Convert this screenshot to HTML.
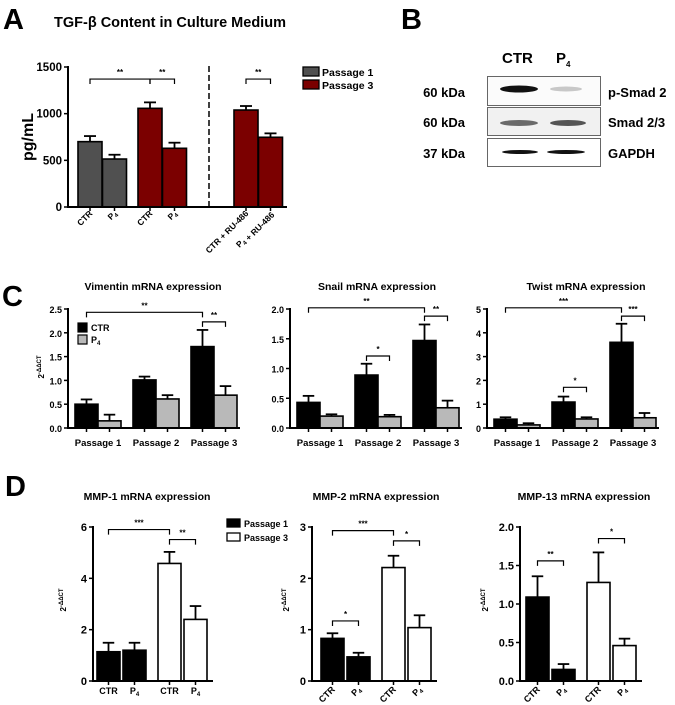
<!DOCTYPE html>
<html><head><meta charset="utf-8">
<style>
html,body{margin:0;padding:0;background:#fff;}
svg{display:block;font-family:"Liberation Sans",Arial,sans-serif;}
</style></head>
<body>
<svg id="fig" width="675" height="705" viewBox="0 0 675 705" xmlns="http://www.w3.org/2000/svg">
<text x="3" y="29" font-size="29" font-weight="bold">A</text>
<text x="401" y="29" font-size="29" font-weight="bold">B</text>
<text x="2" y="306" font-size="29" font-weight="bold">C</text>
<text x="5" y="496" font-size="29" font-weight="bold">D</text>
<text x="54" y="27" font-size="14.5" font-weight="bold">TGF-β Content in Culture Medium</text>

<g font-weight="bold">
<text x="502" y="63" font-size="15">CTR</text>
<text x="556" y="63" font-size="15">P<tspan font-size="8" dy="4">4</tspan></text>
<rect x="487.5" y="76.5" width="113" height="29" fill="#fbfbfb" stroke="#666" stroke-width="1"/>
<rect x="487.5" y="107.5" width="113" height="28" fill="#f1f1f1" stroke="#666" stroke-width="1"/>
<rect x="487.5" y="138.5" width="113" height="28" fill="#fff" stroke="#666" stroke-width="1"/>
<ellipse cx="519" cy="89" rx="19" ry="3.5" fill="#111"/>
<ellipse cx="566" cy="89" rx="16" ry="2.5" fill="#c8c8c8"/>
<ellipse cx="519" cy="123" rx="19" ry="3" fill="#6a6a6a"/>
<ellipse cx="568" cy="123" rx="18" ry="3" fill="#555"/>
<ellipse cx="520" cy="152" rx="18" ry="2" fill="#111"/>
<ellipse cx="566" cy="152" rx="19" ry="2" fill="#111"/>
<text x="465" y="97" font-size="13" text-anchor="end">60 kDa</text>
<text x="465" y="127" font-size="13" text-anchor="end">60 kDa</text>
<text x="465" y="158" font-size="13" text-anchor="end">37 kDa</text>
<text x="608" y="97" font-size="13">p-Smad 2</text>
<text x="608" y="127" font-size="13">Smad 2/3</text>
<text x="608" y="158" font-size="13">GAPDH</text>
</g>
</svg>
<script>
// ---- Panel A data ----
var aCategories = ["CTR","P4","CTR","P4","CTR + RU-486","P4 + RU-486"];
var aValues = [700, 514, 1057, 629, 1039, 747];
var aErrors = [760, 560, 1121, 689, 1082, 789];
var aTicks = [0, 500, 1000, 1500];
var aSeries = ["Passage 1","Passage 1","Passage 3","Passage 3","Passage 3","Passage 3"];
// ---- Panel C data ----
var cGroups = ["Passage 1","Passage 2","Passage 3"];
var vimCtr = [0.5, 1.01, 1.71];
var vimP4 = [0.15, 0.61, 0.69];
var vimCtrErr = [0.6, 1.08, 2.06];
var vimP4Err = [0.28, 0.69, 0.88];
var vimTicks = [0, 0.5, 1.0, 1.5, 2.0, 2.5];
var snailCtr = [0.43, 0.89, 1.47];
var snailP4 = [0.2, 0.19, 0.34];
var snailCtrErr = [0.54, 1.08, 1.74];
var snailP4Err = [0.23, 0.22, 0.46];
var snailTicks = [0, 0.5, 1.0, 1.5, 2.0];
var twistCtr = [0.37, 1.09, 3.6];
var twistP4 = [0.13, 0.38, 0.43];
var twistCtrErr = [0.45, 1.32, 4.38];
var twistP4Err = [0.2, 0.45, 0.63];
var twistTicks = [0, 1, 2, 3, 4, 5];
// ---- Panel D data ----
var dCategories = ["CTR","P4","CTR","P4"];
var mmp1Values = [1.14, 1.2, 4.58, 2.4];
var mmp1Errors = [1.49, 1.49, 5.03, 2.92];
var mmp1Ticks = [0, 2, 4, 6];
var mmp2Values = [0.83, 0.47, 2.21, 1.04];
var mmp2Errors = [0.93, 0.55, 2.44, 1.28];
var mmp2Ticks = [0, 1, 2, 3];
var mmp13Values = [1.09, 0.15, 1.28, 0.46];
var mmp13Errors = [1.36, 0.22, 1.67, 0.55];
var mmp13Ticks = [0, 0.5, 1.0, 1.5, 2.0];

var NS = "http://www.w3.org/2000/svg";
var svg = document.getElementById("fig");
function mk(tag, attrs, parent) {
  var e = document.createElementNS(NS, tag);
  for (var k in attrs) e.setAttribute(k, attrs[k]);
  (parent || svg).appendChild(e);
  return e;
}
function fmt(v, dec) { return dec ? v.toFixed(1) : String(v); }

function drawChart(cfg) {
  var g = mk("g", {});
  
  
  var yS = function (v) { return cfg.zeroY - (v / cfg.max) * (cfg.zeroY - cfg.topY); };
  cfg.values.forEach(function (v, i) {
    var x = cfg.barX(i), w = cfg.barW, cx = x + w / 2;
    var eb = mk("line", {x1: cx, x2: cx, y1: yS(v), y2: yS(cfg.errors[i]), stroke: "#000", "stroke-width": 1.8}, g);
    
    
    var cap = mk("line", {x1: cx - w / 4, x2: cx + w / 4, y1: yS(cfg.errors[i]), y2: yS(cfg.errors[i]), stroke: "#000", "stroke-width": 1.8}, g);
    
    
    var r = mk("rect", {x: x, y: yS(v), width: w, height: cfg.zeroY - yS(v), fill: cfg.fills[i], stroke: "#000", "stroke-width": 1.6}, g);
    
    
    var t = mk("line", {x1: cx, x2: cx, y1: cfg.zeroY, y2: cfg.zeroY + 4, stroke: "#000", "stroke-width": 1.5}, g);
    
    
  });
  var ya = mk("line", {x1: cfg.axisX, x2: cfg.axisX, y1: cfg.topY - 1, y2: cfg.zeroY + 1, stroke: "#000", "stroke-width": 2}, g);
  
  
  var xa = mk("line", {x1: cfg.axisX - 1, x2: cfg.axisEnd, y1: cfg.zeroY, y2: cfg.zeroY, stroke: "#000", "stroke-width": 2}, g);
  
  
  cfg.ticks.forEach(function (tv) {
    var y = yS(tv);
    var tl = mk("line", {x1: cfg.axisX - 4, x2: cfg.axisX, y1: y, y2: y, stroke: "#000", "stroke-width": 1.5}, g);
    
    
    var tx = mk("text", {x: cfg.axisX - 6, y: y + 4, "font-size": cfg.tickFont, "font-weight": "bold", "text-anchor": "end"}, g);
    
    
    tx.textContent = fmt(tv, cfg.dec);
  });
  (cfg.brackets || []).forEach(function (b) {
    var x1 = cfg.barX(b[0]) + cfg.barW / 2, x2 = cfg.barX(b[1]) + cfg.barW / 2, y = yS(b[2]);
    var p = mk("path", {d: "M" + x1 + "," + (y + 5) + "V" + y + "H" + x2 + "V" + (y + 5), fill: "none", stroke: "#000", "stroke-width": 1.2}, g);
    
    
    var s = mk("text", {x: (x1 + x2) / 2, y: y - 4, "font-size": 8, "font-weight": "bold", "text-anchor": "middle"}, g);
    
    
    s.textContent = b[3];
  });
  return {g: g, yS: yS};
}
function ylabel(x, y, name) {
  var t = mk("text", {x: 0, y: 0, transform: "translate(" + x + "," + y + ") rotate(-90)", "font-size": 8, "font-weight": "bold", "text-anchor": "middle"});
  
  
  t.innerHTML = '2<tspan dy="-3" font-size="6">-ΔΔCT</tspan>';
}
function title(x, y, s, name) {
  var t = mk("text", {x: x, y: y, "font-size": 10.5, "font-weight": "bold", "text-anchor": "middle"});
  
  
  t.textContent = s;
}
function sub(s) { return s.replace("P4", 'P<tspan font-size="6" dy="2">4</tspan><tspan dy="-2"></tspan>'); }

// ---- Panel A ----
var aStarts = [78, 78, 138, 138, 234, 234];
drawChart({
  name: "tgf-beta-chart", values: aValues, errors: aErrors, max: 1500, ticks: aTicks, dec: false,
  axisX: 68, axisEnd: 287, zeroY: 207, topY: 67, barW: 24, tickFont: 11.5,
  barX: function (i) { return aStarts[i] + (i % 2) * 24.5; },
  fills: aSeries.map(function (s) { return s === "Passage 1" ? "#505050" : "#7b0000"; }),
  brackets: [[0, 2, 1371, "**"], [2, 3, 1371, "**"], [4, 5, 1371, "**"]]
});
var dl = mk("line", {x1: 209, x2: 209, y1: 66, y2: 207, stroke: "#000", "stroke-width": 1.5, "stroke-dasharray": "6,3"});


aCategories.forEach(function (c, i) {
  var cx = aStarts[i] + (i % 2) * 24.5 + 12;
  var t = mk("text", {x: 0, y: 0, transform: "translate(" + (cx + 3) + "," + 214 + ") rotate(-45)", "font-size": 8.5, "font-weight": "bold", "text-anchor": "end"});
  
  
  t.innerHTML = sub(c);
});
var ay = mk("text", {x: 0, y: 0, transform: "translate(33,137) rotate(-90)", "font-size": 16, "font-weight": "bold", "text-anchor": "middle"});


ay.textContent = "pg/mL";
[["Passage 1", "#505050", 67], ["Passage 3", "#7b0000", 80]].forEach(function (l) {
  var r = mk("rect", {x: 303, y: l[2], width: 16, height: 9, fill: l[1], stroke: "#000", "stroke-width": 1.3});
  
  
  var t = mk("text", {x: 322, y: l[2] + 9, "font-size": 10.5, "font-weight": "bold"});
  
  
  t.textContent = l[0];
});

// ---- Panel C ----
function drawC(name, ax, ctr, p4, ctrE, p4E, ticks, max, dec, brackets) {
  var vals = [], errs = [], fills = [];
  ctr.forEach(function (v, i) { vals.push(v, p4[i]); errs.push(ctrE[i], p4E[i]); fills.push("#000", "#b9b9b9"); });
  drawChart({
    name: name, values: vals, errors: errs, max: max, ticks: ticks, dec: dec,
    axisX: ax, axisEnd: ax + 172, zeroY: 428, topY: 309, barW: 23, tickFont: 9,
    barX: function (i) { return ax + 7 + Math.floor(i / 2) * 58 + (i % 2) * 23; },
    fills: fills, brackets: brackets
  });
  cGroups.forEach(function (gname, gi) {
    var t = mk("text", {x: ax + 7 + gi * 58 + 23, y: 446, "font-size": 9.5, "font-weight": "bold", "text-anchor": "middle"});
    
    
    t.textContent = gname;
  });
}
drawC("vimentin-chart", 68, vimCtr, vimP4, vimCtrErr, vimP4Err, vimTicks, 2.5, true, [[0, 4, 2.43, "**"], [4, 5, 2.23, "**"]]);
drawC("snail-chart", 290, snailCtr, snailP4, snailCtrErr, snailP4Err, snailTicks, 2.0, true, [[0, 4, 2.02, "**"], [4, 5, 1.88, "**"], [2, 3, 1.21, "*"]]);
drawC("twist-chart", 487, twistCtr, twistP4, twistCtrErr, twistP4Err, twistTicks, 5, false, [[0, 4, 5.05, "***"], [4, 5, 4.7, "***"], [2, 3, 1.71, "*"]]);
title(153, 290, "Vimentin mRNA expression", "vimentin-title");
title(377, 290, "Snail mRNA expression", "snail-title");
title(586, 290, "Twist mRNA  expression", "twist-title");
ylabel(44, 367, "y-axis-title-vimentin");
[["CTR", "#000", 323], ["P4", "#b9b9b9", 335]].forEach(function (l) {
  var r = mk("rect", {x: 78, y: l[2], width: 9, height: 9, fill: l[1], stroke: "#000", "stroke-width": 1.2});
  
  
  var t = mk("text", {x: 91, y: l[2] + 8, "font-size": 9, "font-weight": "bold"});
  
  
  t.innerHTML = sub(l[0]);
});

// ---- Panel D ----
function drawD(name, ax, first, vals, errs, ticks, max, dec, brackets, rotated) {
  drawChart({
    name: name, values: vals, errors: errs, max: max, ticks: ticks, dec: dec,
    axisX: ax, axisEnd: first + 116, zeroY: 681, topY: 527, barW: 23, tickFont: 11,
    barX: function (i) { return first + Math.floor(i / 2) * 61 + (i % 2) * 26; },
    fills: ["#000", "#000", "#fff", "#fff"], brackets: brackets
  });
  dCategories.forEach(function (c, i) {
    var cx = first + Math.floor(i / 2) * 61 + (i % 2) * 26 + 11.5;
    var t;
    if (rotated) t = mk("text", {x: 0, y: 0, transform: "translate(" + (cx + 3) + "," + 690 + ") rotate(-45)", "font-size": 9, "font-weight": "bold", "text-anchor": "end"});
    else t = mk("text", {x: cx, y: 694, "font-size": 9, "font-weight": "bold", "text-anchor": "middle"});
    
    
    t.innerHTML = sub(c);
  });
}
drawD("mmp1-chart", 93, 97, mmp1Values, mmp1Errors, mmp1Ticks, 6, false, [[0, 2, 5.9, "***"], [2, 3, 5.51, "**"]], false);
drawD("mmp2-chart", 312, 321, mmp2Values, mmp2Errors, mmp2Ticks, 3, false, [[0, 2, 2.93, "***"], [2, 3, 2.73, "*"], [0, 1, 1.17, "*"]], true);
drawD("mmp13-chart", 520, 526, mmp13Values, mmp13Errors, mmp13Ticks, 2, true, [[0, 1, 1.56, "**"], [2, 3, 1.85, "*"]], true);
title(147, 500, "MMP-1 mRNA expression", "mmp1-title");
title(376, 500, "MMP-2 mRNA expression", "mmp2-title");
title(584, 500, "MMP-13 mRNA expression", "mmp13-title");
ylabel(66, 600, "y-axis-title-mmp1");
ylabel(289, 600, "y-axis-title-mmp2");
ylabel(488, 600, "y-axis-title-mmp13");
[["Passage 1", "#000", 519], ["Passage 3", "#fff", 533]].forEach(function (l) {
  var r = mk("rect", {x: 227, y: l[2], width: 13, height: 8, fill: l[1], stroke: "#000", "stroke-width": 1.3});
  
  
  var t = mk("text", {x: 244, y: l[2] + 8, "font-size": 9, "font-weight": "bold"});
  
  
  t.textContent = l[0];
});
</script>
</body></html>
